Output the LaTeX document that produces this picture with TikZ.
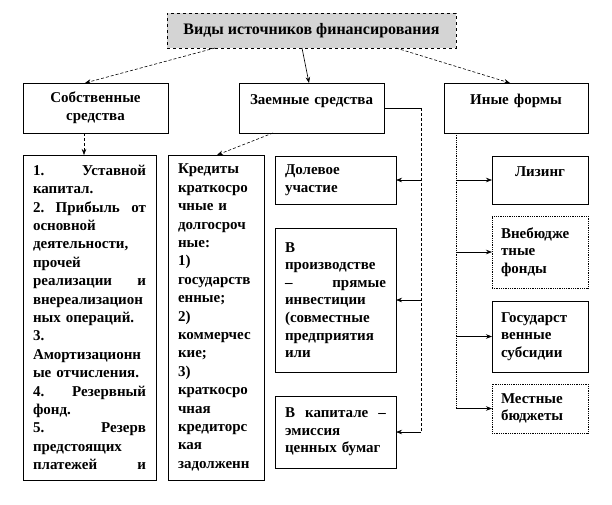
\documentclass[tikz,border=0pt]{standalone}
\usepackage{fontspec}
\setmainfont{Liberation Serif}
\usetikzlibrary{arrows.meta,positioning,calc}

\begin{document}
\begin{tikzpicture}[x=1pt, y=-1pt, font=\bfseries\fontsize{15}{17.6}\selectfont]
    \tikzset{box/.style={draw, line width=0.8pt, inner xsep=10pt, inner ysep=3pt,
                 outer sep=0pt, anchor=north west, align=left},
             listbox/.style={box, font=\bfseries\fontsize{15}{18.4}\selectfont},
             arr/.style={-{Stealth[length=6pt,width=4.5pt]}, line width=0.6pt}}
    \useasboundingbox (0,0) rectangle (612,504);

    % Title
    \node[box, dashed, fill=black!17, minimum width=289pt, minimum height=35pt,
          align=center, font=\bfseries\fontsize{16}{18}\selectfont]
        (title) at (167,13) {Виды источников финансирования};

    % Second row
    \node[box, text width=125pt, minimum height=50pt, align=center] (own) at (23,83)
        {Собственные\\средства};
    \node[box, text width=135pt, inner xsep=5pt, minimum height=50pt, align=center]
        (loan) at (239,83) {Заемные средства\\ \mbox{}};
    \node[box, text width=124pt, minimum height=50pt, align=center] (other) at (444,83)
        {Иные формы\\ \mbox{}};

    % Own sources
    \node[listbox, text width=113pt, minimum height=325pt] (list) at (23,155)
        {1.\hfill Уставной\\
         капитал.\\
         2.\hfill Прибыль\hfill от\\
         основной\\
         деятельности,\\
         прочей\\
         реализации\hfill и\\
         внереализацион\\
         ных операций.\\
         3.\\
         Амортизационн\\
         ые отчисления.\\
         4.\hfill Резервный\\
         фонд.\\
         5.\hfill Резерв\\
         предстоящих\\
         платежей\hfill и};

    % Borrowed sources
    \node[listbox, text width=76pt, minimum height=325pt] (credit) at (168,155)
        {Кредиты\\
         краткосро\\
         чные и\\
         долгосроч\\
         ные:\\
         1)\\
         государств\\
         енные;\\
         2)\\
         коммерчес\\
         кие;\\
         3)\\
         краткосро\\
         чная\\
         кредиторс\\
         кая\\
         задолженн};
    \node[box, text width=101pt, minimum height=48pt] (share) at (275,156)
        {Долевое\\участие};
    \node[box, text width=101pt, minimum height=144pt] (prod) at (275,228)
        {В\\
         производстве\\
         –\hfill прямые\\
         инвестиции\\
         (совместные\\
         предприятия\\
         или};
    \node[box, text width=101pt, minimum height=72pt] (capital) at (275,396)
        {В\hfill капитале\hfill –\\
         эмиссия\\
         ценных бумаг};

    % Other forms
    \node[box, text width=78pt, inner xsep=9pt, minimum height=48pt, align=center]
        (leasing) at (492,156) {Лизинг\\ \mbox{}};
    \node[box, densely dotted, text width=78pt, inner xsep=9pt, minimum height=72pt]
        (extra) at (492,216) {Внебюдже\\тные\\фонды};
    \node[box, text width=78pt, inner xsep=9pt, minimum height=71pt]
        (subsidy) at (492,301) {Государст\\венные\\субсидии};
    \node[box, densely dotted, text width=78pt, inner xsep=9pt, minimum height=49pt]
        (local) at (492,384) {Местные\\бюджеты};

    % Connectors from the title
    \draw[arr, densely dashed] ([xshift=-96.5pt]title.south) -- ([xshift=-10.5pt]own.north);
    \draw[arr] ([xshift=-9.5pt]title.south) -- ([xshift=-2.5pt]loan.north);
    \draw[arr, densely dashed] ([xshift=84.5pt]title.south) -- ([xshift=-6pt]other.north);

    % Own sources
    \coordinate (ownout) at ([xshift=-11.5pt]own.south);
    \draw[arr, densely dashed] (ownout) -- (ownout |- list.north);

    % Borrowed sources
    \draw[arr, densely dashed] ([xshift=-38.5pt]loan.south) -- ([xshift=1pt]credit.north);
    \coordinate (loanbus) at ([xshift=37pt]loan.east);
    \draw[line width=0.6pt] (loan.east) -- (loanbus);
    \draw[densely dashed, line width=0.7pt] (loanbus) -- (loanbus |- capital.east);
    \foreach \n in {share, prod, capital}
        \draw[arr] (loanbus |- \n.east) -- (\n.east);

    % Other forms
    \coordinate (otherbus) at ([xshift=-60pt]other.south);
    \draw[densely dotted, line width=0.8pt] (otherbus) -- (otherbus |- local.west);
    \foreach \n in {leasing, extra, subsidy, local}
        \draw[arr] (otherbus |- \n.west) -- (\n.west);

\end{tikzpicture}
\end{document}
